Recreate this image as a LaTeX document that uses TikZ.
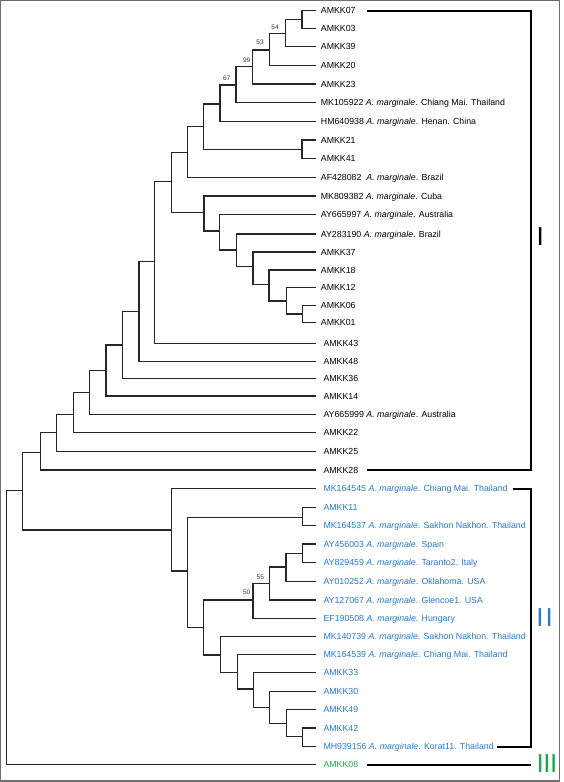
\documentclass[tikz,border=0pt]{standalone}
\usepackage{fontspec}
\setmainfont{Liberation Sans}
\definecolor{cladeblue}{RGB}{40,122,204}
\definecolor{cladegreen}{RGB}{34,168,76}
\definecolor{framegray}{RGB}{110,110,110}
\newcommand\mkleaf[5]{\coordinate (#1) at (315.7,#2); \node[lab,text=#5] (t#1) at (#3,#2) {#4};}
\newcommand\mkedge[2]{\draw[br] (#1) |- (#2);}
\newcommand\am{\textit{A. marginale}}
\begin{document}
\begin{tikzpicture}[x=1pt,y=-1pt,
  br/.style={draw=black!85,line width=1.3pt},
  lab/.style={anchor=base west,inner sep=0pt,yshift=-3.15pt,font=\fontsize{8.8}{10}\selectfont},
  bs/.style={inner sep=0pt,font=\fontsize{6.5}{7}\selectfont,text=black!80},
  bracket/.style={draw=black,line width=2pt},
  clade/.style={inner sep=0pt,font=\fontsize{26}{28}\selectfont}]
\useasboundingbox (0,0) rectangle (564,782);
\fill[white] (0,0) rectangle (564,782);
\draw[framegray,line width=1.3pt] (0.8,0.8) rectangle (559.3,780.9);
% leaves
\mkleaf{L07}{10.7}{320.7}{AMKK07}{black}
\mkleaf{L03}{28.7}{320.7}{AMKK03}{black}
\mkleaf{L39}{46.7}{320.7}{AMKK39}{black}
\mkleaf{L20}{65.3}{320.7}{AMKK20}{black}
\mkleaf{L23}{84}{320.7}{AMKK23}{black}
\mkleaf{MKa}{102.7}{320.7}{MK105922 \am. Chiang Mai. Thailand}{black}
\mkleaf{HMa}{121.3}{320.7}{HM640938 \am. Henan. China}{black}
\mkleaf{L21}{140}{320.7}{AMKK21}{black}
\mkleaf{L41}{158.7}{320.7}{AMKK41}{black}
\mkleaf{AFa}{177.3}{320.7}{AF428082\ \ \am. Brazil}{black}
\mkleaf{MKb}{196}{320.7}{MK809382 \am. Cuba}{black}
\mkleaf{AYa}{214.7}{320.7}{AY665997 \am. Australia}{black}
\mkleaf{AYb}{234}{320.7}{AY283190 \am. Brazil}{black}
\mkleaf{L37}{252}{320.7}{AMKK37}{black}
\mkleaf{L18}{270}{320.7}{AMKK18}{black}
\mkleaf{L12}{287.3}{320.7}{AMKK12}{black}
\mkleaf{L06}{305.3}{320.7}{AMKK06}{black}
\mkleaf{L01}{322.7}{320.7}{AMKK01}{black}
\mkleaf{L43}{343.3}{323.3}{AMKK43}{black}
\mkleaf{L48}{361.3}{323.3}{AMKK48}{black}
\mkleaf{L36}{378.7}{323.3}{AMKK36}{black}
\mkleaf{L14}{396}{323.3}{AMKK14}{black}
\mkleaf{AYc}{414.7}{323.3}{AY665999 \am. Australia}{black}
\mkleaf{L22}{432.7}{323.3}{AMKK22}{black}
\mkleaf{L25}{451.3}{323.3}{AMKK25}{black}
\mkleaf{L28}{470}{323.3}{AMKK28}{black}
\mkleaf{MKf}{488.7}{323.3}{MK164545 \am. Chiang Mai. Thailand}{cladeblue}
\mkleaf{L11}{507.3}{323.3}{AMKK11}{cladeblue}
\mkleaf{MKc}{525.3}{323.3}{MK164537 \am. Sakhon Nakhon. Thailand}{cladeblue}
\mkleaf{AYd}{544}{323.3}{AY456003 \am. Spain}{cladeblue}
\mkleaf{AYe}{562.7}{323.3}{AY829459 \am. Taranto2. Italy}{cladeblue}
\mkleaf{AYf}{581.3}{323.3}{AY010252 \am. Oklahoma. USA}{cladeblue}
\mkleaf{AYg}{600}{323.3}{AY127067 \am. Glencoe1. USA}{cladeblue}
\mkleaf{EFa}{618.7}{323.3}{EF190508 \am. Hungary}{cladeblue}
\mkleaf{MKd}{636.7}{323.3}{MK140739 \am. Sakhon Nakhon. Thailand}{cladeblue}
\mkleaf{MKe}{654.7}{323.3}{MK164539 \am. Chiang Mai. Thailand}{cladeblue}
\mkleaf{L33}{672.7}{323.3}{AMKK33}{cladeblue}
\mkleaf{L30}{691.3}{323.3}{AMKK30}{cladeblue}
\mkleaf{L49}{709.3}{323.3}{AMKK49}{cladeblue}
\mkleaf{L42}{728}{323.3}{AMKK42}{cladeblue}
\mkleaf{MHa}{746.7}{323.3}{MH939156 \am. Korat11. Thailand}{cladeblue}
\mkleaf{L08}{764.7}{323.3}{AMKK08}{cladegreen}
% internal nodes
\coordinate (a1) at (302,19.7);
\coordinate (a2) at (285.3,33.3);
\coordinate (a3) at (269.3,50);
\coordinate (a4) at (252.3,66.5);
\coordinate (a5) at (236,85);
\coordinate (a6) at (220,104);
\coordinate (b1) at (302,149.3);
\coordinate (a7) at (203.3,126.7);
\coordinate (a8) at (187.3,152.3);
\coordinate (c6) at (302.3,314);
\coordinate (c5) at (286.3,301);
\coordinate (c4) at (269,284.3);
\coordinate (c3) at (253,266.7);
\coordinate (c2) at (236.3,250);
\coordinate (c1) at (219.7,231);
\coordinate (c0) at (204,212.3);
\coordinate (a9) at (171.2,181.7);
\coordinate (d1) at (154.3,261.5);
\coordinate (d2) at (139,311.5);
\coordinate (d3) at (122.3,345);
\coordinate (d4) at (106,370.7);
\coordinate (d5) at (89.7,392.5);
\coordinate (d6) at (73.7,414.3);
\coordinate (d7) at (56.7,432.7);
\coordinate (d8) at (40.3,452.7);
\coordinate (f1) at (302.3,553.3);
\coordinate (f2) at (286,567);
\coordinate (f3) at (269.3,583.3);
\coordinate (f4) at (253,600);
\coordinate (g6) at (302.3,736.7);
\coordinate (g5) at (286.3,723.3);
\coordinate (g4) at (269.7,707.7);
\coordinate (g3) at (253.3,689);
\coordinate (g2) at (237.3,672.7);
\coordinate (g1) at (220.3,655);
\coordinate (f5) at (203.7,627.3);
\coordinate (h1) at (302.3,517.3);
\coordinate (h2) at (187.3,571);
\coordinate (h3) at (171.2,530);
\coordinate (r1) at (22.7,490.7);
\coordinate (root) at (6.7,627.7);
% edges
\mkedge{a1}{L07}\mkedge{a1}{L03}
\mkedge{a2}{a1}\mkedge{a2}{L39}
\mkedge{a3}{a2}\mkedge{a3}{L20}
\mkedge{a4}{a3}\mkedge{a4}{L23}
\mkedge{a5}{a4}\mkedge{a5}{MKa}
\mkedge{a6}{a5}\mkedge{a6}{HMa}
\mkedge{b1}{L21}\mkedge{b1}{L41}
\mkedge{a7}{a6}\mkedge{a7}{b1}
\mkedge{a8}{a7}\mkedge{a8}{AFa}
\mkedge{c6}{L06}\mkedge{c6}{L01}
\mkedge{c5}{L12}\mkedge{c5}{c6}
\mkedge{c4}{L18}\mkedge{c4}{c5}
\mkedge{c3}{L37}\mkedge{c3}{c4}
\mkedge{c2}{AYb}\mkedge{c2}{c3}
\mkedge{c1}{AYa}\mkedge{c1}{c2}
\mkedge{c0}{MKb}\mkedge{c0}{c1}
\mkedge{a9}{a8}\mkedge{a9}{c0}
\mkedge{d1}{a9}\mkedge{d1}{L43}
\mkedge{d2}{d1}\mkedge{d2}{L48}
\mkedge{d3}{d2}\mkedge{d3}{L36}
\mkedge{d4}{d3}\mkedge{d4}{L14}
\mkedge{d5}{d4}\mkedge{d5}{AYc}
\mkedge{d6}{d5}\mkedge{d6}{L22}
\mkedge{d7}{d6}\mkedge{d7}{L25}
\mkedge{d8}{d7}\mkedge{d8}{L28}
\mkedge{f1}{AYd}\mkedge{f1}{AYe}
\mkedge{f2}{f1}\mkedge{f2}{AYf}
\mkedge{f3}{f2}\mkedge{f3}{AYg}
\mkedge{f4}{f3}\mkedge{f4}{EFa}
\mkedge{g6}{L42}\mkedge{g6}{MHa}
\mkedge{g5}{L49}\mkedge{g5}{g6}
\mkedge{g4}{L30}\mkedge{g4}{g5}
\mkedge{g3}{L33}\mkedge{g3}{g4}
\mkedge{g2}{MKe}\mkedge{g2}{g3}
\mkedge{g1}{MKd}\mkedge{g1}{g2}
\mkedge{f5}{f4}\mkedge{f5}{g1}
\mkedge{h1}{L11}\mkedge{h1}{MKc}
\mkedge{h2}{h1}\mkedge{h2}{f5}
\mkedge{h3}{MKf}\mkedge{h3}{h2}
\mkedge{r1}{d8}\mkedge{r1}{h3}
\mkedge{root}{r1}\mkedge{root}{L08}
% bootstrap values
\node[bs,xshift=-10.3pt,yshift=5.6pt] (bs54) at (a2) {54};
\node[bs,xshift=-9.3pt,yshift=7.3pt] (bs53) at (a3) {53};
\node[bs,xshift=-5.6pt,yshift=5.8pt] (bs99) at (a4) {99};
\node[bs,xshift=-9.3pt,yshift=7pt] (bs67) at (a5) {67};
\node[bs,xshift=-9pt,yshift=6.3pt] (bs55) at (f3) {55};
\node[bs,xshift=-6.3pt,yshift=7.7pt] (bs50) at (f4) {50};
% clade brackets
\coordinate (kIa) at (366.7,10.7);
\coordinate (kIb) at (366.7,470);
\coordinate (kIIa) at (512.7,488.7);
\coordinate (kIIb) at (496.7,746.7);
\coordinate (kIIIa) at (366.7,764.7);
\coordinate (kIIIb) at (530.7,764.7);
\draw[bracket] (kIa) -- (530.7,10.7) -- (530.7,470) -- (kIb);
\draw[bracket] (kIIa) -- (530.7,488.7) -- (530.7,746.7) -- (kIIb);
\draw[bracket] (kIIIa) -- (kIIIb);
\node[clade,text=black] (cI) at (540.2,237) {I};
\node[clade,text=cladeblue] (cII) at (544.6,617.5) {I\kern1.8pt I};
\node[clade,text=cladegreen] (cIII) at (547,763.7) {I\kern-0.5pt I\kern-0.5pt I};
\end{tikzpicture}
\end{document}
